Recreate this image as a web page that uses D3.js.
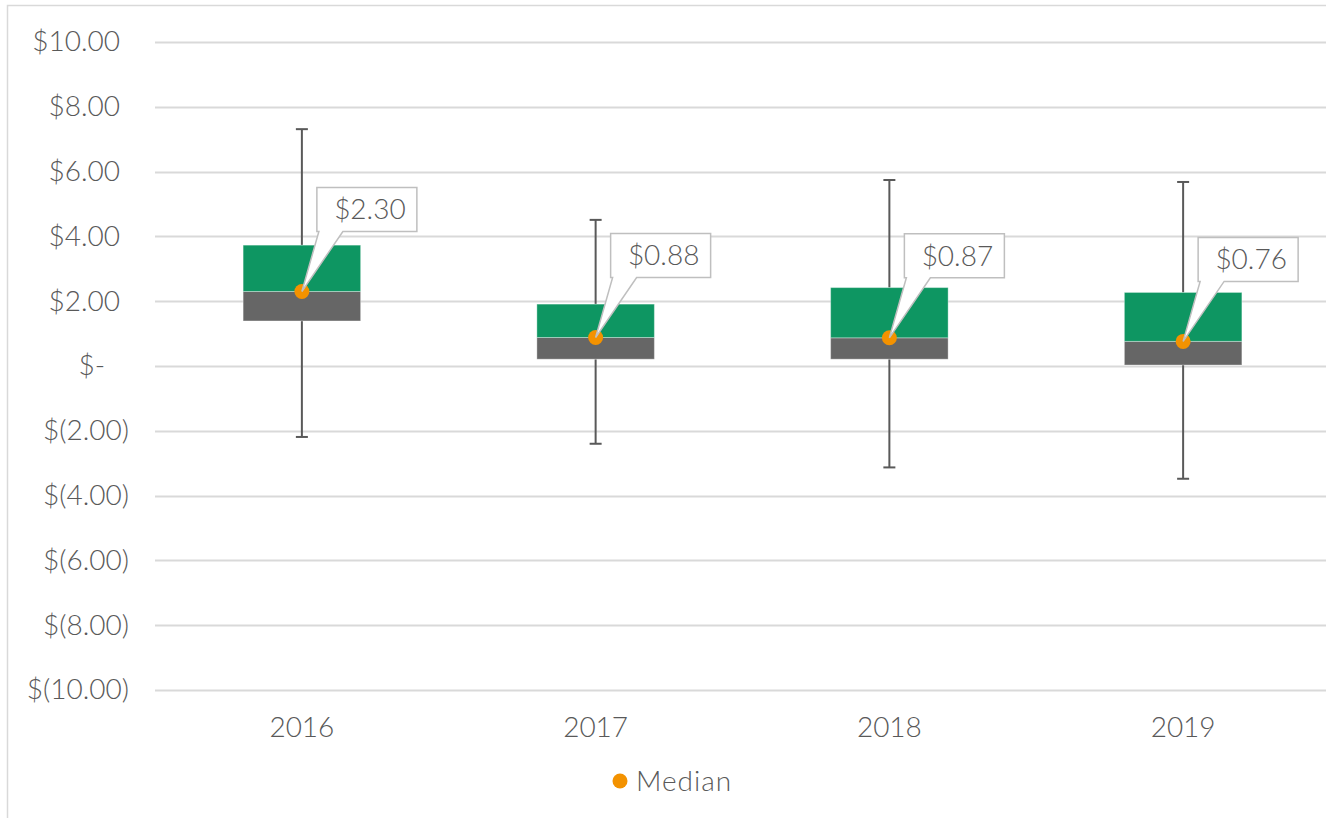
<!DOCTYPE html>
<html>
<head>
<meta charset="utf-8">
<script src="https://cdn.jsdelivr.net/npm/d3@7"></script>
<style>
  html, body { margin: 0; padding: 0; background: #fff; overflow: hidden; }
  svg { display: block; font-family: Lato, "Noto Sans", sans-serif; font-weight: 300; }
</style>
</head>
<body>
<svg id="chart" width="1326" height="818"></svg>
<script>
// ---- data ----
const years = ["2016", "2017", "2018", "2019"];
const minVals = [-2.19, -2.40, -3.13, -3.48];
const q1Vals = [1.39, 0.21, 0.21, 0.03];
const medianVals = [2.30, 0.88, 0.87, 0.76];
const q3Vals = [3.73, 1.91, 2.42, 2.27];
const maxVals = [7.31, 4.51, 5.74, 5.68];
const yTicks = [10, 8, 6, 4, 2, 0, -2, -4, -6, -8, -10];
const yTickLabels = ["$10.00", "$8.00", "$6.00", "$4.00", "$2.00", "$-", "$(2.00)", "$(4.00)", "$(6.00)", "$(8.00)", "$(10.00)"];
const legendLabel = "Median";

// ---- styles ----
const TEXT = "#595959";
const GRID = "#d9d9d9";
const GREEN = "#0e9662";
const GRAY = "#666666";
const ORANGE = "#f39200";
const FS = "28px";

const svg = d3.select("#chart");

// outer chart border
svg.append("path")
  .attr("d", "M7.5,818 V5.5 H1326")
  .attr("fill", "none").attr("stroke", GRID).attr("stroke-width", 1.5);

const y = d3.scaleLinear().domain([-10, 10]).range([690, 42]);
const x = d3.scaleBand().domain(years).range([155, 1330]).padding(0);
const boxW = x.bandwidth() * 0.4;

// gridlines
svg.append("g")
  .selectAll("line").data(yTicks).join("line")
  .attr("x1", 155).attr("x2", 1326)
  .attr("y1", d => Math.round(y(d)) + 0.5).attr("y2", d => Math.round(y(d)) + 0.5)
  .attr("stroke", GRID).attr("stroke-width", 2);

// y axis labels
const yAxis = d3.axisLeft(y).tickValues(yTicks)
  .tickFormat((d, i) => yTickLabels[i]).tickSize(0).tickPadding(0);
const gy = svg.append("g").attr("transform", "translate(129,0)").call(yAxis);
gy.select(".domain").remove();
gy.selectAll("text")
  .attr("fill", TEXT).style("font-size", FS).style("font-family", "Lato, 'Noto Sans', sans-serif")
  .style("font-weight", 300)
  .attr("dx", d => d < 0 ? 0 : (d === 0 ? -24 : -9));

// x axis labels
const xAxis = d3.axisBottom(x).tickSize(0).tickPadding(0);
const gx = svg.append("g").attr("transform", "translate(0,727)").call(xAxis);
gx.select(".domain").remove();
gx.selectAll("text")
  .attr("fill", TEXT).style("font-size", FS).style("font-family", "Lato, 'Noto Sans', sans-serif")
  .style("font-weight", 300)
  .attr("dy", "0.35em").attr("y", 0);

const rows = years.map((yr, i) => ({
  yr, min: minVals[i], q1: q1Vals[i], med: medianVals[i], q3: q3Vals[i], max: maxVals[i]
}));

const g = svg.append("g");
const cx = d => x(d.yr) + x.bandwidth() / 2;

// whiskers
const wh = g.selectAll(".wh").data(rows).join("g").attr("class", "wh");
wh.append("line")
  .attr("x1", cx).attr("x2", cx)
  .attr("y1", d => y(d.q3)).attr("y2", d => y(d.max))
  .attr("stroke", TEXT).attr("stroke-width", 2);
wh.append("line")
  .attr("x1", cx).attr("x2", cx)
  .attr("y1", d => y(d.q1)).attr("y2", d => y(d.min))
  .attr("stroke", TEXT).attr("stroke-width", 2);
["max", "min"].forEach(k => {
  wh.append("line")
    .attr("x1", d => cx(d) - 6).attr("x2", d => cx(d) + 6)
    .attr("y1", d => y(d[k])).attr("y2", d => y(d[k]))
    .attr("stroke", TEXT).attr("stroke-width", 2);
});

// lower box (q1 -> median)
g.selectAll(".lo").data(rows).join("rect").attr("class", "lo")
  .attr("x", d => x(d.yr) + (x.bandwidth() - boxW) / 2)
  .attr("width", boxW)
  .attr("y", d => y(d.med)).attr("height", d => y(d.q1) - y(d.med))
  .attr("fill", GRAY).attr("stroke", "rgba(255,255,255,0.35)").attr("stroke-width", 1);

// upper box (median -> q3)
g.selectAll(".hi").data(rows).join("rect").attr("class", "hi")
  .attr("x", d => x(d.yr) + (x.bandwidth() - boxW) / 2)
  .attr("width", boxW)
  .attr("y", d => y(d.q3)).attr("height", d => y(d.med) - y(d.q3))
  .attr("fill", GREEN).attr("stroke", "rgba(255,255,255,0.35)").attr("stroke-width", 1);

// median markers
g.selectAll(".med").data(rows).join("circle").attr("class", "med")
  .attr("cx", cx)
  .attr("cy", d => y(d.med)).attr("r", 7.5)
  .attr("fill", ORANGE);

// callouts
const co = g.selectAll(".co").data(rows).join("g").attr("class", "co")
  .attr("transform", d => `translate(${cx(d)},${y(d.med)})`);
co.append("path")
  .attr("d", "M0,0 L17,-60 L15,-60 L15,-104 L115,-104 L115,-60 L41,-60 Z")
  .attr("fill", "#fff").attr("stroke", "#bfbfbf").attr("stroke-width", 1.5)
  .attr("stroke-linejoin", "miter");
co.append("text")
  .attr("x", 68).attr("y", -82).attr("dy", "0.35em")
  .attr("text-anchor", "middle")
  .attr("fill", TEXT).style("font-size", FS)
  .text(d => "$" + d3.format(".2f")(d.med));

// legend
const lg = svg.append("g").attr("transform", "translate(620,781)");
lg.append("circle").attr("r", 7.5).attr("fill", ORANGE);
lg.append("text").attr("x", 16).attr("dy", "0.35em")
  .attr("fill", TEXT).style("font-size", FS).style("letter-spacing", "1px").text(legendLabel);
</script>
</body>
</html>
